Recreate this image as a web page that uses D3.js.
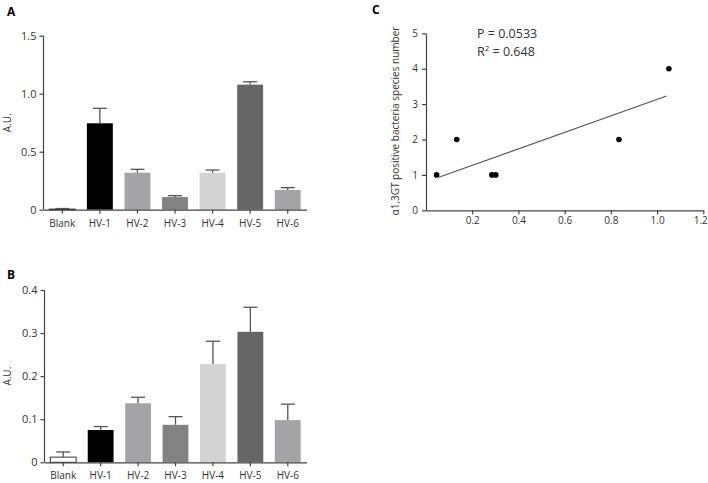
<!DOCTYPE html>
<html><head><meta charset="utf-8">
<script src="https://cdn.jsdelivr.net/npm/d3@7"></script>
<style>body{margin:0;background:#fff}svg{display:block}text{font-family:"Open Sans",sans-serif;fill:#333}</style>
</head><body>
<svg id="c" width="708" height="483"></svg>
<script>
const categories = ["Blank","HV-1","HV-2","HV-3","HV-4","HV-5","HV-6"];
const barColors = ["#ffffff","#000000","#a4a4a8","#828282","#d3d3d3","#666666","#a4a4a8"];
const valuesA = [0.005,0.745,0.319,0.109,0.319,1.078,0.170];
const errA    = [0.005,0.129,0.029,0.012,0.023,0.025,0.020];
const ticksA  = [0,0.5,1.0,1.5];
const valuesB = [0.012,0.075,0.137,0.087,0.228,0.303,0.098];
const errB    = [0.012,0.008,0.014,0.019,0.053,0.057,0.037];
const ticksB  = [0,0.1,0.2,0.3,0.4];
const scatterX = [0.046,0.133,0.285,0.302,0.835,1.051];
const scatterY = [1,2,1,1,2,4];
const ticksCX = [0.2,0.4,0.6,0.8,1.0,1.2];
const ticksCY = [0,1,2,3,4,5];
const statP = "P = 0.0533";
const statR = "0.648";

const svg = d3.select("#c");
const axisColor = "#444";

function barPanel(vals, errs, ticks, fmt, yMax, x0, x1, yTop, yBot, letter, lx, ly) {
  const g = svg.append("g");
  const x = d3.scaleBand().domain(categories).range([x0, x1]).paddingInner(0.31).paddingOuter(0.155);
  const y = d3.scaleLinear().domain([0, yMax]).range([yBot, yTop]);
  g.selectAll("rect.bar").data(categories).enter().append("rect")
    .attr("x", d => x(d)).attr("width", x.bandwidth())
    .attr("y", (d,i) => y(vals[i])).attr("height", (d,i) => yBot - y(vals[i]))
    .attr("fill", (d,i) => barColors[i])
    .attr("stroke", (d,i) => i === 0 ? "#333" : "none").attr("stroke-width", 1);
  const eg = g.selectAll("g.err").data(categories).enter().append("g");
  eg.append("line")
    .attr("x1", d => x(d) + x.bandwidth()/2).attr("x2", d => x(d) + x.bandwidth()/2)
    .attr("y1", (d,i) => y(vals[i])).attr("y2", (d,i) => y(vals[i] + errs[i]))
    .attr("stroke", "#555").attr("stroke-width", 1.3);
  eg.append("line")
    .attr("x1", d => x(d) + x.bandwidth()/2 - 7).attr("x2", d => x(d) + x.bandwidth()/2 + 7)
    .attr("y1", (d,i) => y(vals[i] + errs[i])).attr("y2", (d,i) => y(vals[i] + errs[i]))
    .attr("stroke", "#555").attr("stroke-width", 1.3);
  const ya = g.append("g").attr("transform", `translate(${x0},0)`)
    .call(d3.axisLeft(y).tickValues(ticks).tickFormat(fmt).tickSize(4).tickPadding(3));
  const xa = g.append("g").attr("transform", `translate(0,${yBot})`)
    .call(d3.axisBottom(x).tickSize(4).tickPadding(6).tickSizeOuter(0));
  [ya, xa].forEach(a => {
    a.select(".domain").attr("stroke", axisColor).attr("stroke-width", 1.2);
    a.selectAll(".tick line").attr("stroke", axisColor).attr("stroke-width", 1.2);
    a.selectAll("text").attr("font-family", "Open Sans, sans-serif").attr("font-size", 10).attr("fill", "#333");
  });
  ya.selectAll("text").attr("font-size", 11);
  ya.select(".domain").attr("d", `M-0,${yBot}V${yTop}`);
  g.append("text").attr("transform", `translate(11,${(yTop + yBot)/2}) rotate(-90)`)
    .attr("text-anchor", "middle").attr("font-size", 10).text("A.U.");
  svg.append("text").attr("x", lx).attr("y", ly).attr("font-family", "Liberation Sans, Arial, sans-serif")
    .attr("font-weight", "bold").attr("font-size", 12).style("fill", "#000").text(letter);
}

barPanel(valuesA, errA, ticksA, d => d === 0 ? "0" : d3.format(".1f")(d), 1.5, 43.5, 306.5, 35.7, 209.7, "A", 7, 16);
barPanel(valuesB, errB, ticksB, d => d === 0 ? "0" : d3.format(".1f")(d), 0.4, 44.5, 306.5, 290, 462.3, "B", 7, 279);

{
  const g = svg.append("g");
  const x = d3.scaleLinear().domain([0, 1.2]).range([426, 703.3]);
  const y = d3.scaleLinear().domain([0, 5]).range([210.3, 33.3]);
  const ya = g.append("g").attr("transform", "translate(426,0)")
    .call(d3.axisLeft(y).tickValues(ticksCY).tickFormat(d3.format("d")).tickSize(4).tickPadding(4).tickSizeOuter(0));
  const xa = g.append("g").attr("transform", "translate(0,210.3)")
    .call(d3.axisBottom(x).tickValues(ticksCX).tickFormat(d3.format(".1f")).tickSize(4).tickPadding(3).tickSizeOuter(0));
  [ya, xa].forEach(a => {
    a.select(".domain").attr("stroke", axisColor).attr("stroke-width", 1.2);
    a.selectAll(".tick line").attr("stroke", axisColor).attr("stroke-width", 1.2);
    a.selectAll("text").attr("font-family", "Open Sans, sans-serif").attr("font-size", 10).attr("fill", "#333");
  });
  xa.selectAll(".tick text").filter(d => d === 1.2).attr("text-anchor", "end").attr("dx", 4);
  const n = scatterX.length;
  const mx = d3.mean(scatterX), my = d3.mean(scatterY);
  let sxy = 0, sxx = 0;
  for (let i = 0; i < n; i++) { sxy += (scatterX[i]-mx)*(scatterY[i]-my); sxx += (scatterX[i]-mx)**2; }
  const slope = sxy / sxx, icpt = my - slope * mx;
  const xs = [d3.min(scatterX) + 0.01, d3.max(scatterX) - 0.01];
  g.append("line").attr("x1", x(xs[0])).attr("y1", y(icpt + slope*xs[0]))
    .attr("x2", x(xs[1])).attr("y2", y(icpt + slope*xs[1]))
    .attr("stroke", "#555").attr("stroke-width", 1.1);
  g.selectAll("circle").data(scatterX).enter().append("circle")
    .attr("cx", d => x(d)).attr("cy", (d,i) => y(scatterY[i])).attr("r", 2.8).attr("fill", "#000");
  g.append("text").attr("x", 477).attr("y", 38).attr("font-size", 12.5).text(statP);
  const r = g.append("text").attr("x", 477).attr("y", 56).attr("font-size", 12.5);
  r.append("tspan").text("R");
  r.append("tspan").attr("dy", -5).attr("font-size", 8).text("2");
  r.append("tspan").attr("dy", 5).text(" = " + statR);
  g.append("text").attr("transform", "translate(399,121) rotate(-90)").attr("text-anchor", "middle")
    .attr("font-size", 10).text("α1,3GT positive bacteria species number");
  svg.append("text").attr("x", 372).attr("y", 14).attr("font-family", "Liberation Sans, Arial, sans-serif")
    .attr("font-weight", "bold").attr("font-size", 12).style("fill", "#000").text("C");
}
</script>
</body></html>
